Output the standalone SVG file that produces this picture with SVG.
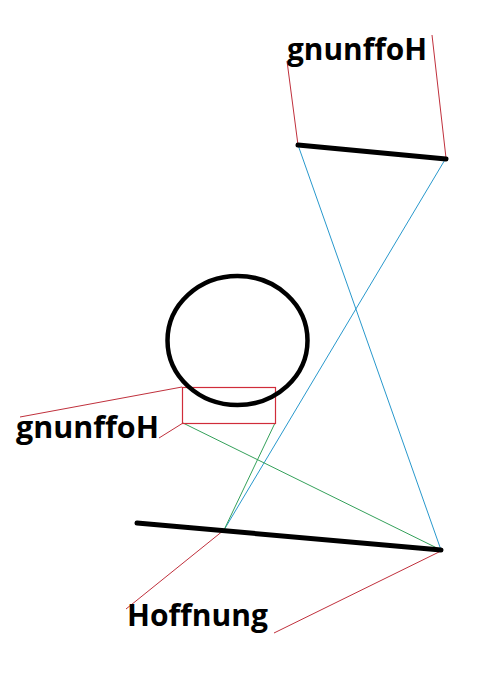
<svg xmlns="http://www.w3.org/2000/svg" width="482" height="679" viewBox="0 0 482 679">
<style>
.red{stroke:#c0303c;stroke-width:1;fill:none}
.blue{stroke:#2898cc;stroke-width:1;fill:none}
.green{stroke:#34a05a;stroke-width:1;fill:none}
.thick{stroke:#000;stroke-width:5;stroke-linecap:round;fill:none}
.lbl{font-family:"Open Sans","Liberation Sans",sans-serif;font-weight:bold;font-size:29.5px;fill:#000}
</style>
<rect width="482" height="679" fill="#fff"/>
<g id="connectors">
<line class="red" x1="287" y1="61" x2="298" y2="145"/>
<line class="red" x1="432" y1="35" x2="446" y2="158"/>
<line class="blue" x1="298" y1="145" x2="441" y2="550"/>
<line class="blue" x1="446" y1="158" x2="224" y2="530"/>
<line class="red" x1="20" y1="417" x2="182" y2="387"/>
<line class="red" x1="159" y1="438" x2="183" y2="423"/>
<line class="green" x1="183" y1="423" x2="441" y2="550"/>
<line class="green" x1="275" y1="423" x2="224" y2="530"/>
<line class="red" x1="126" y1="609" x2="224" y2="530"/>
<line class="red" x1="274" y1="633" x2="441" y2="551"/>
</g>
<g id="box"><rect x="182.5" y="387.5" width="93" height="36" fill="none" stroke="#d02c3a" stroke-width="1.2"/></g>
<g id="mirror-top"><line class="thick" x1="298" y1="145" x2="446" y2="159"/></g>
<g id="circle"><ellipse cx="237.5" cy="340.5" rx="70" ry="64.5" fill="none" stroke="#000" stroke-width="4.5"/></g>
<g id="mirror-bottom"><line class="thick" x1="137" y1="523" x2="441" y2="550"/></g>
<g id="label-top"><text class="lbl" x="287" y="60" textLength="140" lengthAdjust="spacingAndGlyphs">gnunffoH</text></g>
<g id="label-left"><text class="lbl" x="16" y="438" textLength="143" lengthAdjust="spacingAndGlyphs">gnunffoH</text></g>
<g id="label-bottom"><text class="lbl" x="127" y="626" textLength="141" lengthAdjust="spacingAndGlyphs">Hoffnung</text></g>
</svg>
